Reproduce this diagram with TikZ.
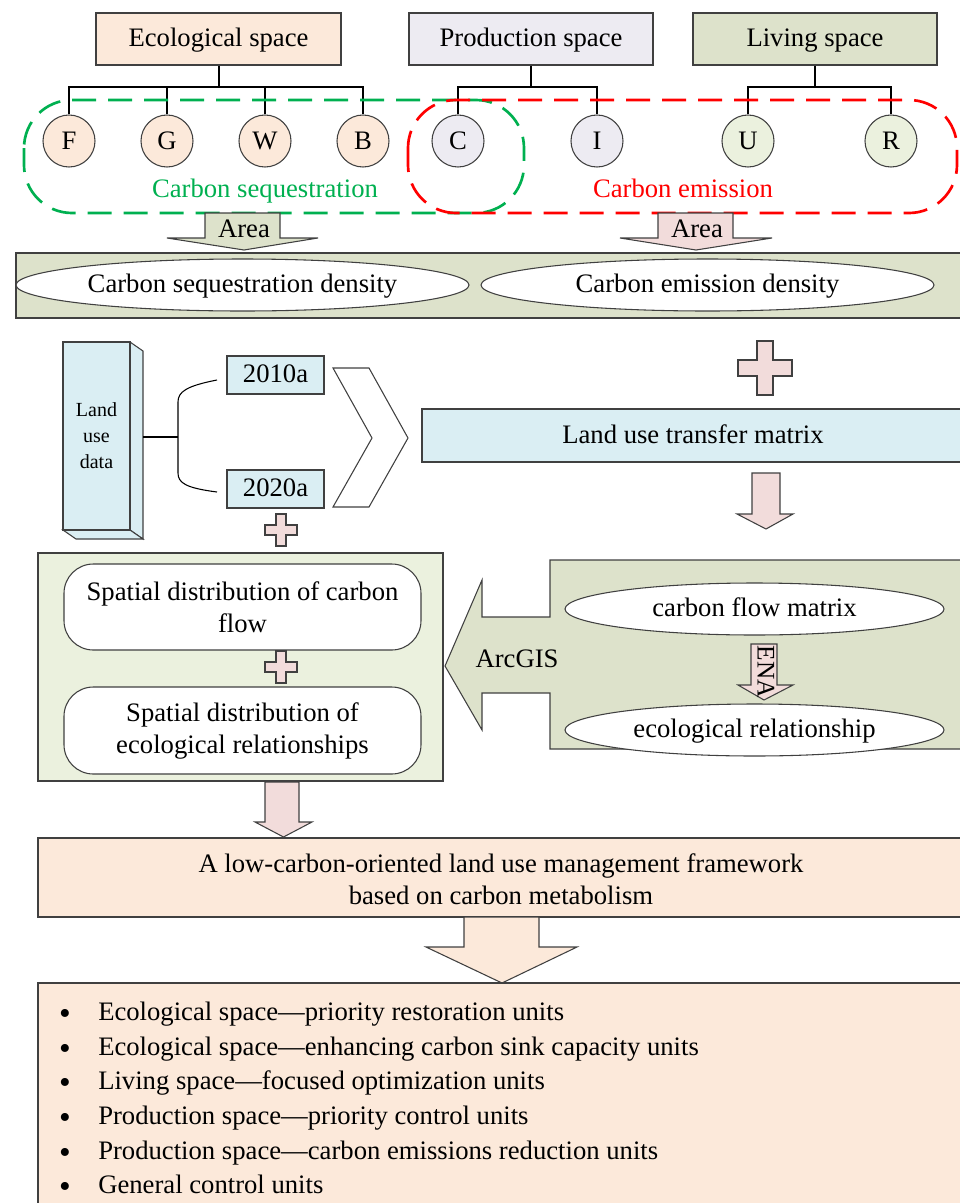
\documentclass[tikz,border=0pt]{standalone}
\usepackage{fontspec}
\setmainfont{Liberation Serif}
\usetikzlibrary{shapes.geometric,calc}
\definecolor{peach}{HTML}{FCE9DA}
\definecolor{lav}{HTML}{EDEBF2}
\definecolor{olive}{HTML}{DDE2CB}
\definecolor{lgreen}{HTML}{EBF1DE}
\definecolor{lblue}{HTML}{DAEEF3}
\definecolor{lpink}{HTML}{F2DCDB}
\definecolor{cgreen}{HTML}{00B050}
\definecolor{edgec}{HTML}{404040}
\newcommand{\crossmark}[4]{%
  \draw[shapeline,fill=lpink] ({#1-#4},{#2-#3}) -- ({#1+#4},{#2-#3}) -- ({#1+#4},{#2-#4}) -- ({#1+#3},{#2-#4}) -- ({#1+#3},{#2+#4}) -- ({#1+#4},{#2+#4}) -- ({#1+#4},{#2+#3}) -- ({#1-#4},{#2+#3}) -- ({#1-#4},{#2+#4}) -- ({#1-#3},{#2+#4}) -- ({#1-#3},{#2-#4}) -- ({#1-#4},{#2-#4}) -- cycle;}
\begin{document}
\begin{tikzpicture}[x=0.75pt,y=-0.75pt,
  every node/.style={font=\fontsize{20}{24}\selectfont},
  sl/.style={text height=15.8pt,text depth=4.4pt},
  shapeline/.style={draw=edgec,line width=0.8pt},
  box/.style={shapeline,rectangle,inner sep=0pt},
  circ/.style={circle,draw=edgec,line width=0.8pt,minimum size=52*0.75pt,inner sep=0pt,text height=16.6pt,text depth=4.4pt},
  ell/.style={ellipse,draw=edgec,line width=0.8pt,fill=white,inner sep=0pt,sl},
  rbox/.style={shapeline,rectangle,rounded corners=22pt,fill=white,align=center,inner sep=0pt,minimum width=357*0.75pt},
  tree/.style={black,line width=1.5pt},
  cdash/.style={line width=2pt,dash pattern=on 18pt off 9pt,rounded corners=36pt}]
\useasboundingbox (0,0) rectangle (960,1203);

% top boxes
\node[box,sl,fill=peach,minimum width=245*0.75pt,minimum height=52*0.75pt] (eco) at (218.5,39) {Ecological space};
\node[box,sl,fill=lav,minimum width=244*0.75pt,minimum height=52*0.75pt] (pro) at (531,39) {Production space};
\node[box,sl,fill=olive,minimum width=244*0.75pt,minimum height=52*0.75pt] (liv) at (815,39) {Living space};

% circles
\node[circ,fill=peach] (F) at (69,141) {F};
\node[circ,fill=peach] (G) at (167,141) {G};
\node[circ,fill=peach] (W) at (265,141) {W};
\node[circ,fill=peach] (B) at (363,141) {B};
\node[circ,fill=lav] (C) at (458,141) {C};
\node[circ,fill=lav] (I) at (597,141) {I};
\node[circ,fill=lgreen] (U) at (748,141) {U};
\node[circ,fill=lgreen] (R) at (891,141) {R};

% tree connectors
\coordinate (ej) at (218.5,87);
\coordinate (pj) at (531,87);
\coordinate (lj) at (815,87);
\draw[tree] (eco.south) -- (ej);
\draw[tree] (F.north) |- (ej) -| (B.north);
\draw[tree] (G.north) -- (G.north |- ej);
\draw[tree] (W.north) -- (W.north |- ej);
\draw[tree] (pro.south) -- (pj);
\draw[tree] (C.north) |- (pj) -| (I.north);
\draw[tree] (liv.south) -- (lj);
\draw[tree] (U.north) |- (lj) -| (R.north);

% dashed groups
\draw[cdash,cgreen] (24,100) rectangle (524,213);
\draw[cdash,red] (408,100) rectangle (957,213);
\node[sl,text=cgreen] (seqlab) at (265,190) {Carbon sequestration};
\node[sl,text=red] (emlab) at (683,190) {Carbon emission};

% Area arrows
\draw[shapeline,fill=olive] (205,213) -- (280,213) -- (280,238) -- (318,238) -- (244,250) -- (167,238) -- (205,238) -- cycle;
\node[sl] (area1) at (244,230) {Area};
\draw[shapeline,fill=lpink] (658,213) -- (733,213) -- (733,238) -- (772,238) -- (696,250) -- (620,238) -- (658,238) -- cycle;
\node[sl] (area2) at (697,230) {Area};

% density band
\draw[shapeline,fill=olive] (16,253) rectangle (962,318);
\node[ell,minimum width=453*0.75pt,minimum height=52*0.75pt] (sd) at (242.5,285) {Carbon sequestration density};
\node[ell,minimum width=453*0.75pt,minimum height=52*0.75pt] (ed) at (707.5,285) {Carbon emission density};

% land use data 3D box
\draw[shapeline,fill=lblue] (130,342) -- (143,351) -- (143,539) -- (130,530) -- cycle;
\draw[shapeline,fill=lblue] (63,530) -- (130,530) -- (143,539) -- (76,539) -- cycle;
\node[box,fill=lblue,minimum width=67*0.75pt,minimum height=188*0.75pt,align=center,font=\fontsize{15}{19.5}\selectfont] (lud) at (96.5,436) {Land\\use\\data};
\coordinate (ludr) at (143,437);
\coordinate (brk) at (178,437);

% years
\node[box,sl,fill=lblue,minimum width=97*0.75pt,minimum height=38*0.75pt] (y10) at (275.5,375) {2010a};
\node[box,sl,fill=lblue,minimum width=97*0.75pt,minimum height=38*0.75pt] (y20) at (275.5,489) {2020a};
\draw[line width=0.8pt] (ludr) -- (brk);
\draw[line width=0.8pt] (217,380) .. controls (186,386) and (178,392) .. (178,402) -- (178,473) .. controls (178,483) and (186,488) .. (217,492);

% chevron
\draw[shapeline,fill=white] (333,368) -- (369,368) -- (408,438) -- (369,507) -- (333,507) -- (372,438) -- cycle;

% transfer matrix
\draw[shapeline,fill=lblue] (422,409) rectangle (962,462);
\node[sl] (ltm) at (693,436) {Land use transfer matrix};

% plus signs
\crossmark{765}{368}{27}{8}
\crossmark{281}{530}{16}{5}

% down arrow right
\draw[shapeline,fill=lpink] (752,473) -- (780,473) -- (780,514) -- (793,514) -- (766,529) -- (737,514) -- (752,514) -- cycle;

% left container
\draw[shapeline,fill=lgreen] (38,553) rectangle (443,781);
\node[rbox,minimum height=86*0.75pt] (sdc) at (242.5,607) {Spatial distribution of carbon\\flow};
\crossmark{281}{667}{16}{5}
\node[rbox,minimum height=87*0.75pt] (sde) at (242.5,730.5) {Spatial distribution of\\ecological relationships};

% right container with ArcGIS arrow
\draw[shapeline,fill=olive] (550,560) -- (962,560) -- (962,749) -- (550,749) -- (550,693) -- (482,693) -- (482,730) -- (445,666) -- (482,580) -- (482,617) -- (550,617) -- cycle;
\node[sl] (arc) at (517,660) {ArcGIS};
\node[ell,minimum width=379*0.75pt,minimum height=52*0.75pt] (cfm) at (754.5,609) {carbon flow matrix};
\draw[shapeline,fill=lpink] (751,644) -- (777,644) -- (777,685) -- (793,685) -- (764,700) -- (738,685) -- (751,685) -- cycle;
\node[rotate=-90,font=\fontsize{19}{20}\selectfont] (ena) at (766,672) {ENA};
\node[ell,minimum width=379*0.75pt,minimum height=52*0.75pt] (erl) at (754.5,730) {ecological relationship};

% down arrow left
\draw[shapeline,fill=lpink] (265,782) -- (299,782) -- (299,822) -- (312,822) -- (283.5,837) -- (255,822) -- (265,822) -- cycle;

% framework
\draw[shapeline,fill=peach] (38,838) rectangle (962,917);
\node[align=center,font=\fontsize{20}{24}\selectfont] (fw) at (501,879) {A low-carbon-oriented land use management framework\\based on carbon metabolism};

% big arrow
\draw[shapeline,fill=peach] (464,917) -- (539,917) -- (539,947) -- (577,947) -- (502,983) -- (426,947) -- (464,947) -- cycle;

% bottom list
\draw[shapeline,fill=peach] (38,983) rectangle (962,1206);
\foreach \yy/\txt [count=\i] in {1013/{Ecological space—priority restoration units},1048/{Ecological space—enhancing carbon sink capacity units},1082/{Living space—focused optimization units},1117/{Production space—priority control units},1152/{Production space—carbon emissions reduction units},1186/{General control units}}{
  \node[inner sep=0pt,font=\fontsize{25}{25}\selectfont] (b\i) at (65,\yy+4) {•};
  \node[sl,anchor=west,inner sep=0pt] (t\i) at (98,\yy) {\txt};
}
\end{tikzpicture}
\end{document}
